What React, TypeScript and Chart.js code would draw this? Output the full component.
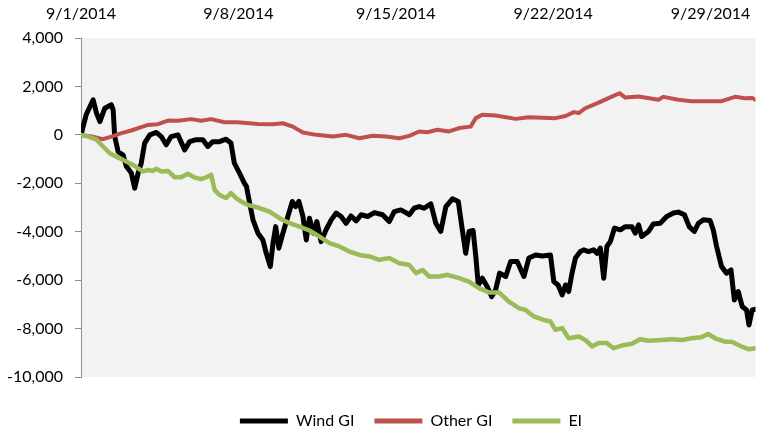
import React, { useEffect, useRef } from 'react';
import { Chart, registerables } from 'chart.js';

Chart.register(...registerables);

// ---- Data (x = days since 9/1/2014) ----
const seriesNames = ['Wind GI', 'Other GI', 'EI'];
const seriesColors = ['#000000', '#C0504D', '#9BBB59'];

const windDays = [0,0.23,0.54,0.69,0.84,1.06,1.35,1.43,1.50,1.65,1.87,2.02,2.24,2.39,2.54,2.68,2.83,3.06,3.35,3.57,3.79,4.01,4.31,4.61,4.83,5.12,5.42,5.64,5.86,6.16,6.45,6.67,6.82,7.05,7.27,7.36,7.50,7.65,7.87,8.09,8.24,8.42,8.54,8.66,8.80,8.98,9.20,9.40,9.54,9.69,9.87,10.02,10.16,10.34,10.49,10.68,10.90,11.13,11.35,11.57,11.79,12.01,12.24,12.46,12.75,13.05,13.41,13.71,13.93,14.23,14.45,14.60,14.82,15.04,15.26,15.56,15.78,16.00,16.23,16.52,16.78,16.96,17.11,17.26,17.44,17.56,17.67,17.85,18.07,18.27,18.44,18.62,18.89,19.11,19.40,19.70,19.92,20.22,20.51,20.88,21.03,21.22,21.40,21.55,21.69,21.84,21.99,22.21,22.36,22.57,22.80,22.95,23.10,23.25,23.39,23.54,23.73,23.99,24.21,24.50,24.65,24.80,24.94,25.24,25.46,25.76,26.05,26.35,26.57,26.84,27.05,27.28,27.46,27.68,27.98,28.12,28.27,28.49,28.71,28.91,29.06,29.23,29.41,29.60,29.71,29.85,30.0];
const windValues = [0,830,1450,900,550,1100,1240,1030,-70,-690,-830,-1310,-1580,-2200,-1580,-1170,-340,0,100,-70,-410,-70,0,-620,-280,-200,-200,-480,-280,-280,-180,-340,-1170,-1580,-2000,-2130,-2820,-3510,-4060,-4340,-4890,-5440,-4470,-3790,-4680,-4060,-3370,-2750,-2960,-2750,-3370,-4340,-3440,-4060,-3580,-4410,-3920,-3510,-3230,-3370,-3650,-3350,-3550,-3300,-3370,-3210,-3300,-3580,-3170,-3100,-3210,-3300,-3030,-2960,-3030,-2850,-3650,-3990,-2960,-2640,-2750,-3920,-4890,-3990,-3950,-5020,-6200,-5920,-6270,-6680,-6400,-5710,-5850,-5230,-5230,-5850,-5090,-4960,-5000,-4960,-6060,-6200,-6610,-6200,-6470,-5710,-5090,-4820,-4750,-4820,-4750,-4890,-4680,-5920,-4610,-4410,-3850,-3920,-3790,-3790,-4060,-3720,-4200,-3990,-3680,-3650,-3370,-3230,-3190,-3300,-3790,-3990,-3650,-3510,-3540,-3920,-4610,-5440,-5710,-5580,-6820,-6470,-7090,-7230,-7850,-7230,-7200];

const otherDays = [0,0.47,0.98,1.35,1.80,2.24,2.68,2.98,3.42,3.87,4.31,4.90,5.34,5.79,6.38,6.97,7.86,8.54,8.98,9.42,9.87,10.46,11.20,11.79,12.38,12.97,13.57,14.16,14.60,15.04,15.41,15.85,16.37,16.82,17.33,17.56,17.85,18.44,19.33,19.92,20.51,21.10,21.55,21.92,22.14,22.43,23.02,23.61,23.95,24.21,24.80,25.68,25.91,26.57,27.16,27.75,28.49,29.09,29.53,29.85,30.0];
const otherValues = [0,-70,-180,-70,70,180,320,410,440,590,580,650,580,650,520,520,450,440,480,340,100,0,-70,0,-140,-40,-70,-140,-40,140,110,210,140,280,340,690,830,800,660,730,710,690,780,940,900,1100,1330,1580,1720,1540,1580,1450,1570,1450,1390,1390,1390,1570,1510,1520,1450];

const eiDays = [0,0.32,0.69,0.98,1.28,1.57,1.95,2.31,2.54,2.76,2.98,3.20,3.35,3.57,3.87,4.16,4.46,4.75,5.05,5.34,5.57,5.79,5.94,6.16,6.45,6.67,6.90,7.12,7.41,7.86,8.39,8.83,9.28,9.72,10.16,10.61,11.05,11.49,11.94,12.38,12.83,13.27,13.71,14.16,14.60,14.90,15.19,15.49,15.93,16.30,16.82,17.26,17.70,18.15,18.59,19.03,19.48,19.77,20.14,20.58,20.88,21.10,21.40,21.69,22.14,22.43,22.73,23.02,23.39,23.69,24.06,24.50,24.87,25.24,25.83,26.27,26.72,27.16,27.59,27.89,28.20,28.64,28.94,29.38,29.68,30.0];
const eiValues = [0,-70,-200,-480,-760,-900,-1070,-1240,-1380,-1510,-1450,-1490,-1400,-1510,-1490,-1750,-1750,-1610,-1760,-1830,-1750,-1650,-2270,-2480,-2610,-2410,-2610,-2750,-2890,-3000,-3170,-3440,-3650,-3790,-3950,-4200,-4470,-4610,-4820,-4960,-5020,-5160,-5090,-5300,-5370,-5710,-5580,-5850,-5850,-5780,-5920,-6060,-6330,-6510,-6510,-6890,-7160,-7230,-7500,-7640,-7710,-8050,-7980,-8400,-8330,-8470,-8740,-8600,-8600,-8810,-8700,-8630,-8440,-8500,-8470,-8440,-8470,-8400,-8360,-8220,-8400,-8540,-8540,-8740,-8850,-8810];

const xTickDays = [0, 7, 14, 21, 28];
const xTickLabels = ['9/1/2014', '9/8/2014', '9/15/2014', '9/22/2014', '9/29/2014'];
const xMin = 0;
const xMax = 30;
const yMin = -10000;
const yMax = 4000;
const yStep = 2000;

const FONT = 'Lato, "Open Sans", sans-serif';
const LEGEND_SHIFT = 32;

const toPoints = (xs: number[], ys: number[]) => xs.map((x, i) => ({ x, y: ys[i] }));

const plotBg = {
  id: 'plotBg',
  beforeDraw(chart: any) {
    const { ctx, chartArea: a } = chart;
    if (!a) return;
    ctx.save();
    ctx.fillStyle = '#F2F2F2';
    ctx.fillRect(a.left, a.top, a.right - a.left, a.bottom - a.top);
    ctx.restore();
  },
  afterLayout(chart: any) {
    const lg = chart.legend;
    if (lg) {
      lg.left += LEGEND_SHIFT;
      lg.right += LEGEND_SHIFT;
    }
  },
};

export default function App() {
  const ref = useRef<HTMLCanvasElement>(null);

  useEffect(() => {
    document.body.style.margin = '0';
    if (!ref.current) return;
    const seriesData = [
      toPoints(windDays, windValues),
      toPoints(otherDays, otherValues),
      toPoints(eiDays, eiValues),
    ];
    const widths = [5, 4, 4.5];
    const orders = [3, 2, 1];
    const chart = new Chart(ref.current, {
      type: 'line',
      data: {
        datasets: seriesNames.map((name, i) => ({
          label: name,
          data: seriesData[i],
          borderColor: seriesColors[i],
          backgroundColor: seriesColors[i],
          borderWidth: widths[i],
          pointRadius: 0,
          pointHoverRadius: 0,
          tension: 0,
          fill: false,
          borderJoinStyle: 'round',
          borderCapStyle: 'round',
          order: orders[i],
        })),
      },
      options: {
        animation: false,
        responsive: false,
        devicePixelRatio: 1,
        layout: { padding: 0 },
        font: { family: FONT },
        plugins: {
          tooltip: { enabled: false },
          legend: {
            position: 'bottom',
            title: { display: true, text: '', padding: 0, font: { size: 10, lineHeight: 1.6 } },
            labels: {
              boxWidth: 48,
              boxHeight: 5,
              padding: 20,
              color: '#000000',
              font: { family: FONT, size: 16 },
              sort: (a: any, b: any) => a.datasetIndex - b.datasetIndex,
              generateLabels: (chart: any) =>
                Chart.defaults.plugins.legend.labels
                  .generateLabels(chart)
                  .map((it: any) => ({ ...it, lineWidth: 0 })),
            },
          },
        },
        scales: {
          x: {
            type: 'linear',
            position: 'top',
            min: xMin,
            max: xMax,
            afterBuildTicks: (scale: any) => {
              scale.ticks = xTickDays.map((v) => ({ value: v }));
            },
            afterFit: (scale: any) => {
              scale.height = 38;
              scale.paddingLeft = 0;
              scale.paddingRight = 0;
            },
            grid: { display: false, drawTicks: false },
            border: { display: false },
            ticks: {
              autoSkip: false,
              maxRotation: 0,
              padding: 15,
              color: '#000000',
              font: { family: FONT, size: 16 },
              callback: (v: any) => {
                const idx = xTickDays.indexOf(Number(v));
                return idx >= 0 ? xTickLabels[idx] : '';
              },
            },
          },
          y: {
            type: 'linear',
            position: 'left',
            min: yMin,
            max: yMax,
            afterFit: (scale: any) => {
              scale.width = 81;
            },
            grid: {
              drawOnChartArea: false,
              drawTicks: true,
              tickLength: 6,
              color: '#8C8C8C',
              lineWidth: 1,
            },
            border: { display: true, color: '#8C8C8C', width: 1 },
            ticks: {
              stepSize: yStep,
              padding: 12,
              color: '#000000',
              font: { family: FONT, size: 16 },
              callback: (v: any) => Number(v).toLocaleString('en-US'),
            },
          },
        },
      },
      plugins: [plotBg],
    } as any);

    let alive = true;
    const fonts = (document as any).fonts;
    if (fonts && fonts.load) {
      fonts
        .load('16px Lato')
        .then(() => {
          if (alive) chart.update('none');
        })
        .catch(() => {});
    }
    return () => {
      alive = false;
      chart.destroy();
    };
  }, []);

  return (
    <div style={{ width: 758, height: 433, overflow: 'hidden' }}>
      <canvas ref={ref} width={758} height={439} style={{ display: 'block' }} />
    </div>
  );
}
